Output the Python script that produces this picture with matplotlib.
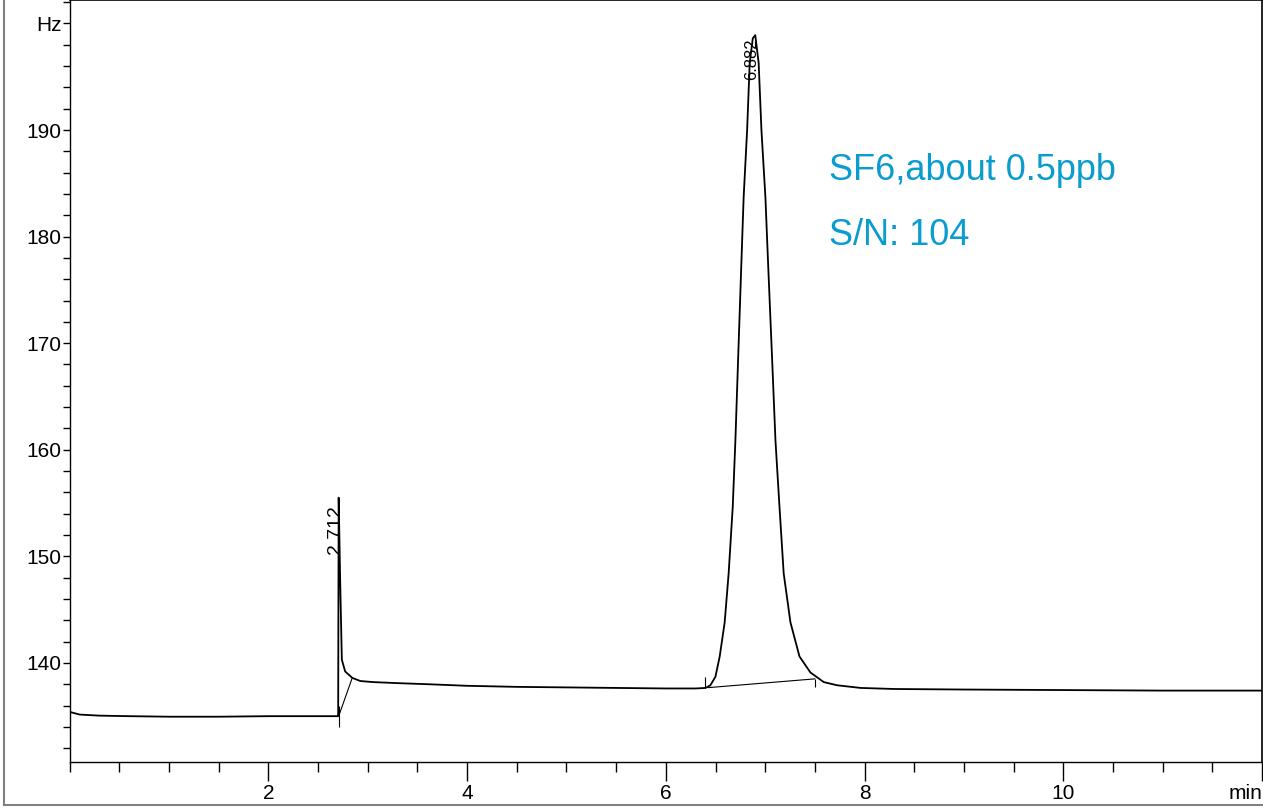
import matplotlib.pyplot as plt
from matplotlib.lines import Line2D
from matplotlib.ticker import MultipleLocator, FixedLocator

plt.rcParams['font.family'] = ['Liberation Sans', 'DejaVu Sans']

# chromatogram trace (min, Hz)
time = [0.0, 0.1, 0.3, 0.6, 1.0, 1.5, 2.0, 2.4, 2.69, 2.702, 2.707, 2.722, 2.739,
        2.772, 2.843, 2.924, 3.05, 3.3, 3.6, 4.0, 4.5, 5.0, 5.5, 6.0, 6.3, 6.40,
        6.448, 6.499, 6.542, 6.592, 6.632, 6.673, 6.700, 6.727, 6.760, 6.783,
        6.818, 6.844, 6.875, 6.900, 6.934, 6.962, 7.002, 7.029, 7.070, 7.103,
        7.144, 7.186, 7.254, 7.345, 7.455, 7.589, 7.724, 7.96, 8.3, 9.0, 10.0,
        11.0, 12.0]
signal = [135.4, 135.15, 135.05, 135.0, 134.95, 134.95, 135.0, 135.0, 135.0, 135.0,
          155.5, 147.8, 140.3, 139.2, 138.6, 138.3, 138.2, 138.1, 138.0, 137.85,
          137.75, 137.7, 137.65, 137.6, 137.6, 137.65, 137.9, 138.7, 140.6, 143.8,
          148.4, 154.6, 160.9, 168.4, 177.5, 183.7, 190.0, 196.3, 198.6, 198.9,
          196.3, 190.0, 183.7, 177.5, 168.4, 160.9, 154.6, 148.4, 143.8, 140.6,
          139.1, 138.2, 137.9, 137.65, 137.55, 137.5, 137.45, 137.4, 137.4]

# integration baselines and peak markers
base1_t = [2.711, 2.84]
base1_v = [135.1, 138.5]
base2_t = [6.43, 7.499]
base2_v = [137.68, 138.5]
marks_t = [2.707, 6.391, 7.499]
marks_lo = [134.0, 137.65, 137.7]
marks_hi = [136.0, 138.7, 138.5]

peak_rt = ['2.712', '6.882']
peak_label_t = [2.675, 6.860]
peak_label_v = [154.8, 198.6]
peak_label_size = [14, 12]

ytick_vals = [140, 150, 160, 170, 180, 190, 200]
ytick_labels = ['140', '150', '160', '170', '180', '190', 'Hz']
xtick_vals = [2, 4, 6, 8, 10, 12]
xtick_labels = ['2', '4', '6', '8', '10', 'min']

fig = plt.figure(figsize=(12.63, 8.08), dpi=100)
ax = fig.add_axes([69.7 / 1263, 46 / 808, (1262 - 69.7) / 1263, 762 / 808])

ax.plot(time, signal, color='black', lw=1.3)
ax.plot(base1_t, base1_v, color='black', lw=0.8)
ax.plot(base2_t, base2_v, color='black', lw=0.8)
ax.vlines(marks_t, marks_lo, marks_hi, color='black', lw=0.8)

for lab, t, v, fs in zip(peak_rt, peak_label_t, peak_label_v, peak_label_size):
    ax.text(t, v, lab, rotation=90, ha='center', va='top', fontsize=fs)

ann_color = '#0a9ccf'
ax.text(7.645, 185.3, 'SF6,about 0.5ppb', color=ann_color, fontsize=26, va='baseline')
ax.text(7.645, 179.2, 'S/N: 104', color=ann_color, fontsize=26, va='baseline')

ax.set_xlim(0, 12)
ax.set_ylim(130.7, 202.2)

ax.xaxis.set_major_locator(FixedLocator(xtick_vals))
ax.set_xticklabels(xtick_labels, fontsize=15)
ax.get_xticklabels()[-1].set_ha('right')
ax.xaxis.set_minor_locator(MultipleLocator(0.5))
ax.yaxis.set_major_locator(FixedLocator(ytick_vals))
ax.set_yticklabels(ytick_labels, fontsize=15)
ax.yaxis.set_minor_locator(MultipleLocator(2))

ax.tick_params(axis='x', which='major', length=14, width=1, pad=2)
ax.tick_params(axis='x', which='minor', length=7, width=1)
ax.tick_params(axis='y', which='major', length=5, width=1, pad=1)
ax.tick_params(axis='y', which='minor', length=5, width=1)

for side in ['top', 'right']:
    ax.spines[side].set_visible(False)
ax.spines['left'].set_linewidth(1)
ax.spines['bottom'].set_linewidth(1)

# outer frame of the exported picture
fig.add_artist(Line2D([3.5 / 1263, 3.5 / 1263], [3 / 808, 1], color='#808080', lw=1.5))
fig.add_artist(Line2D([3.5 / 1263, 1], [3 / 808, 3 / 808], color='#808080', lw=1.5))
fig.add_artist(Line2D([69.7 / 1263, 1], [0.9995, 0.9995], color='black', lw=1.2))
fig.add_artist(Line2D([0.9992, 0.9992], [46 / 808, 1], color='black', lw=1.2))

fig.savefig('out.png', dpi=100)
